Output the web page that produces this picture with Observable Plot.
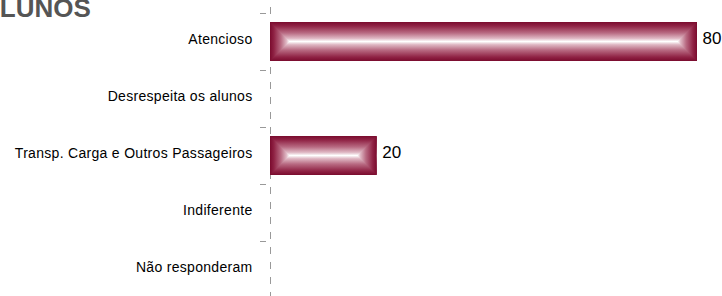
<!DOCTYPE html>
<html>
<head>
<meta charset="utf-8">
<script src="https://cdn.jsdelivr.net/npm/d3@7"></script>
<script src="https://cdn.jsdelivr.net/npm/@observablehq/plot@0.6"></script>
<style>
  html, body { margin: 0; padding: 0; background: #fff; }
  #wrap { position: relative; width: 722px; height: 296px; overflow: hidden; }
  #title { position: absolute; top: -5px; left: -19px; font: bold 26px "Liberation Sans", Arial, sans-serif; line-height: 26px; color: #555; white-space: nowrap; z-index: 2; }
  #chart { position: absolute; top: 0; left: 0; }
</style>
</head>
<body>
<div id="wrap">
  <div id="title">ALUNOS</div>
  <div id="chart"></div>
</div>
<script>
const categories = ["Atencioso", "Desrespeita os alunos", "Transp. Carga e Outros Passageiros", "Indiferente", "Não responderam"];
const values = [80, 0, 20, 0, 0];

const data = categories.map((c, i) => ({category: c, value: values[i]}));

const plot = Plot.plot({
  width: 722,
  height: 296,
  marginLeft: 270,
  marginRight: 25,
  marginTop: 0,
  marginBottom: 0,
  style: {fontFamily: '"Liberation Sans", Arial, sans-serif', fontSize: "14px", color: "#000", background: "transparent"},
  x: {domain: [0, 80], axis: null},
  y: {domain: categories, range: [13, 298], padding: 0, label: null},
  marks: [
    Plot.ruleX([0], {stroke: "#999", strokeDasharray: "7,8", strokeDashoffset: 8}),
    Plot.axisY({tickSize: 0, tickPadding: 18, dy: -2.5, fill: "#000", label: null, fontSize: 14}),
    Plot.axisY({tickSize: 6, dx: -4, dy: -28.5, stroke: "#999", fill: "none", label: null}),
    Plot.barX(data.filter(d => d.value > 0), {x: "value", y: "category", insetTop: 9, insetBottom: 9, fill: "url(#bevelV)"}),
    Plot.text(data.filter(d => d.value > 0), {x: "value", y: "category", text: d => String(d.value), dx: 5, dy: -3, textAnchor: "start", fontSize: 17, fill: "#000"})
  ]
});

// gradient definitions for the bevelled bars
const svg = d3.select(plot);
svg.selectAll('g[aria-label="y-axis tick label"] text').style("letter-spacing", "0.3px");
const defs = svg.insert("defs", ":first-child");
const stops = [[0, "#7a0b2e"], [0.1, "#8f2244"], [0.28, "#b86a82"], [0.42, "#dfb8c4"], [0.5, "#ffffff"]];
const gv = defs.append("linearGradient").attr("id", "bevelV").attr("x1", 0).attr("y1", 0).attr("x2", 0).attr("y2", 1);
stops.forEach(([o, c]) => gv.append("stop").attr("offset", o).attr("stop-color", c));
stops.slice().reverse().forEach(([o, c]) => gv.append("stop").attr("offset", 1 - o).attr("stop-color", c));
const gl = defs.append("linearGradient").attr("id", "bevelL").attr("x1", 0).attr("y1", 0).attr("x2", 1).attr("y2", 0);
stops.forEach(([o, c]) => gl.append("stop").attr("offset", o * 2).attr("stop-color", c));
const gr = defs.append("linearGradient").attr("id", "bevelR").attr("x1", 1).attr("y1", 0).attr("x2", 0).attr("y2", 0);
stops.forEach(([o, c]) => gr.append("stop").attr("offset", o * 2).attr("stop-color", c));

svg.selectAll('g[aria-label="bar"] rect').each(function() {
  const r = d3.select(this);
  const x = +r.attr("x"), y = +r.attr("y"), w = +r.attr("width"), h = +r.attr("height");
  const g = d3.select(this.parentNode);
  const b = Math.min(h / 2, w / 2);
  g.append("polygon").attr("points", `${x},${y} ${x + b},${y + h / 2} ${x},${y + h}`).attr("fill", "url(#bevelL)");
  g.append("polygon").attr("points", `${x + w},${y} ${x + w - b},${y + h / 2} ${x + w},${y + h}`).attr("fill", "url(#bevelR)");
});

document.getElementById("chart").appendChild(plot);
</script>
</body>
</html>
